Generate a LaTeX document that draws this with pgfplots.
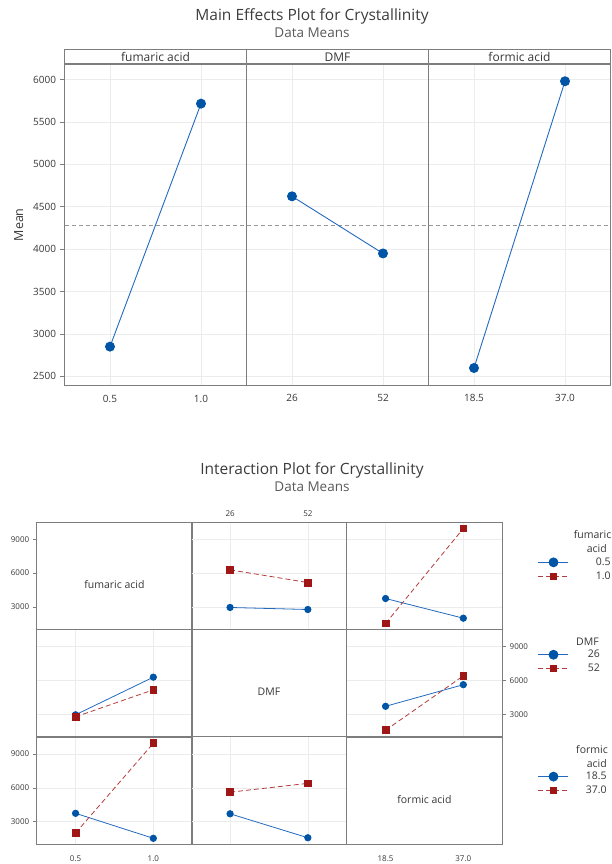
\documentclass[border=0pt]{standalone}
\usepackage{fontspec}
\setmainfont{Open Sans}
\usepackage{pgfplots}
\pgfplotsset{compat=1.18}

\definecolor{mblue}{RGB}{0,84,166}
\definecolor{mbline}{RGB}{35,105,190}
\definecolor{mred}{RGB}{158,22,22}
\definecolor{mrline}{RGB}{180,60,60}
\definecolor{framec}{RGB}{125,125,125}
\definecolor{gridc}{RGB}{236,236,236}
\definecolor{txt}{RGB}{55,55,55}
\definecolor{titc}{RGB}{60,60,60}
\definecolor{subc}{RGB}{90,90,90}
\definecolor{refc}{RGB}{150,150,150}

\tikzset{dlab/.style={font=\fontsize{10.5}{12}\selectfont, text=txt}}

\pgfplotsset{
  common/.style={
    scale only axis, clip=false,
    xmin=-0.5, xmax=1.5, xtick={0,1},
    scaled ticks=false,
    /pgf/number format/1000 sep={},
    /pgf/number format/assume math mode=true,
    axis line style={framec, line width=0.8pt},
    major grid style={gridc, line width=0.6pt},
    tick style={framec, line width=0.6pt},
    tick align=outside,
    xtick style={draw=none},
  },
  me/.style={common,
    width=182pt, height=321pt,
    ymin=2394, ymax=6180, ytick={2500,3000,3500,4000,4500,5000,5500,6000},
    grid=major,
    yticklabels={}, ytick style={draw=none},
    tick label style={font=\fontsize{10}{12}\selectfont, text=txt},
    xticklabel style={yshift=-1pt},
    every axis title shift=0pt,
    title style={draw=framec, line width=0.8pt, at={(0.5,1)}, anchor=south, yshift=0pt,
      minimum width=182pt, minimum height=14.3pt, inner sep=0pt,
      font=\fontsize{12}{14}\selectfont, text=txt},
  },
  meline/.style={mbline, line width=0.9pt, mark=*, mark size=4.5pt,
    mark options={draw=mblue, fill=mblue, solid}},
  mref/.style={refc, line width=0.7pt, dash pattern=on 4pt off 3pt, forget plot},
  ip/.style={common,
    width=155.5pt, height=107.3pt,
    ymin=1000, ymax=10500, ytick={3000,6000,9000},
    grid=major,
    xticklabels={}, yticklabels={}, ytick style={draw=none},
    tick label style={font=\fontsize{8}{9}\selectfont, text=txt},
    axis line style={framec, line width=1pt},
  },
  yl/.style={yticklabels={3000,6000,9000}, ytick style={draw=framec, line width=0.6pt},
    ytick pos=left, major tick length=4pt},
  yr/.style={yticklabels={3000,6000,9000}, ytick style={draw=framec, line width=0.6pt},
    ytick pos=right, yticklabel pos=right, major tick length=4pt},
  xb/.style={xticklabel style={yshift=-4pt}},
  bl/.style={mbline, line width=0.8pt, mark=*, mark size=3.2pt,
    mark options={draw=mblue, fill=mblue, solid}},
  rl/.style={mrline, line width=0.8pt, dash pattern=on 5pt off 3pt, mark=square*, mark size=3.4pt,
    mark options={draw=mred, fill=mred, solid}},
  lg/.style={
    legend image code/.code={\draw[##1, mark repeat=2, mark phase=2] plot coordinates {(0pt,0pt) (15pt,0pt) (30pt,0pt)};},
    legend style={draw=none, fill=none, inner sep=0pt, anchor=north west,
      nodes={inner sep=0pt, font=\fontsize{10.5}{12}\selectfont, text=txt},
      row sep=4.5pt},
    legend cell align=left},
}

\begin{document}
\begin{tikzpicture}
\useasboundingbox (0,0) rectangle (612pt,864pt);
\clip (0,0) rectangle (612pt,864pt);

% ---------- Main effects plot ----------
\node[font=\fontsize{15.5}{18}\selectfont, text=titc] at (312pt,848pt) {Main Effects Plot for Crystallinity};
\node[font=\fontsize{13.5}{16}\selectfont, text=subc] at (312pt,831.5pt) {Data Means};

\begin{axis}[me, at={(64.5pt,478.7pt)}, anchor=south west,
  title={fumaric acid}, xticklabels={0.5,1.0},
  yticklabels={2500,3000,3500,4000,4500,5000,5500,6000},
  ytick style={draw=framec, line width=0.6pt}, ytick pos=left, major tick length=5pt,
  ylabel={Mean}, ylabel style={font=\fontsize{12.5}{15}\selectfont, text=txt, xshift=0pt, yshift=3pt}]
\addplot[mref] coordinates {(-0.5,4285) (1.5,4285)};
\addplot[meline] coordinates {(0,2850) (1,5716)};
\end{axis}

\begin{axis}[me, at={(246.5pt,478.7pt)}, anchor=south west,
  title={DMF}, xticklabels={26,52}]
\addplot[mref] coordinates {(-0.5,4285) (1.5,4285)};
\addplot[meline] coordinates {(0,4623) (1,3949)};
\end{axis}

\begin{axis}[me, at={(428.5pt,478.7pt)}, anchor=south west,
  title={formic acid}, xticklabels={18.5,37.0}]
\addplot[mref] coordinates {(-0.5,4285) (1.5,4285)};
\addplot[meline] coordinates {(0,2598) (1,5980)};
\end{axis}

% ---------- Interaction plot ----------
\node[font=\fontsize{15.5}{18}\selectfont, text=titc] at (312pt,393.5pt) {Interaction Plot for Crystallinity};
\node[font=\fontsize{13.5}{16}\selectfont, text=subc] at (312pt,377pt) {Data Means};

% row 1
\begin{axis}[ip, yl, grid=none, at={(36.7pt,234.5pt)}, anchor=south west]
\node[dlab] at (rel axis cs:0.5,0.42) {fumaric acid};
\end{axis}

\begin{axis}[ip, at={(191.2pt,234.5pt)}, anchor=south west,
  xticklabel pos=upper, xticklabels={26,52}, xticklabel style={yshift=-2pt}]
\addplot[bl] coordinates {(0,2950) (1,2770)};
\addplot[rl] coordinates {(0,6280) (1,5160)};
\end{axis}

\begin{axis}[ip, lg, at={(346.7pt,234.5pt)}, anchor=south west,
  legend style={at={(1.2295,0.670)}, /tikz/every odd column/.append style={column sep=27pt}}]
\addplot[bl, forget plot] coordinates {(0,3743) (1,2000)};
\addplot[rl, forget plot] coordinates {(0,1531) (1,9947)};
\addlegendimage{bl, mark size=4.5pt}
\addlegendentry{0.5}
\addlegendimage{rl, mark size=3pt}
\addlegendentry{1.0}
\end{axis}

% row 2
\begin{axis}[ip, at={(36.7pt,127.2pt)}, anchor=south west]
\addplot[bl] coordinates {(0,2950) (1,6280)};
\addplot[rl] coordinates {(0,2770) (1,5160)};
\end{axis}

\begin{axis}[ip, grid=none, at={(191.2pt,127.2pt)}, anchor=south west]
\node[dlab] at (rel axis cs:0.5,0.42) {DMF};
\end{axis}

\begin{axis}[ip, yr, lg, at={(346.7pt,127.2pt)}, anchor=south west,
  legend style={at={(1.2295,0.809)}, /tikz/every odd column/.append style={column sep=19pt}}]
\addplot[bl, forget plot] coordinates {(0,3700) (1,5615)};
\addplot[rl, forget plot] coordinates {(0,1580) (1,6395)};
\addlegendimage{bl, mark size=4.5pt}
\addlegendentry{26}
\addlegendimage{rl, mark size=3pt}
\addlegendentry{52}
\end{axis}

% row 3
\begin{axis}[ip, yl, xb, at={(36.7pt,19.7pt)}, anchor=south west, xticklabels={0.5,1.0}]
\addplot[bl] coordinates {(0,3743) (1,1531)};
\addplot[rl] coordinates {(0,2000) (1,9947)};
\end{axis}

\begin{axis}[ip, at={(191.2pt,19.7pt)}, anchor=south west]
\addplot[bl] coordinates {(0,3700) (1,1580)};
\addplot[rl] coordinates {(0,5615) (1,6395)};
\end{axis}

\begin{axis}[ip, xb, lg, grid=none, at={(346.7pt,19.7pt)}, anchor=south west, xticklabels={18.5,37.0},
  legend style={at={(1.2295,0.675)}, /tikz/every odd column/.append style={column sep=17pt}}]
\node[dlab] at (rel axis cs:0.5,0.42) {formic acid};
\addlegendimage{bl, mark size=4.5pt}
\addlegendentry{18.5}
\addlegendimage{rl, mark size=3pt}
\addlegendentry{37.0}
\end{axis}

% legend titles
\node[dlab, anchor=east, inner sep=0pt] at (611.5pt,329pt) {fumaric};
\node[dlab, anchor=east, inner sep=0pt] at (607pt,315.7pt) {acid};
\node[dlab, anchor=west, inner sep=0pt] at (576pt,222.3pt) {DMF};
\node[dlab, anchor=west, inner sep=0pt] at (576pt,114.7pt) {formic};
\node[dlab, anchor=east, inner sep=0pt] at (607pt,100.7pt) {acid};

\end{tikzpicture}
\end{document}
